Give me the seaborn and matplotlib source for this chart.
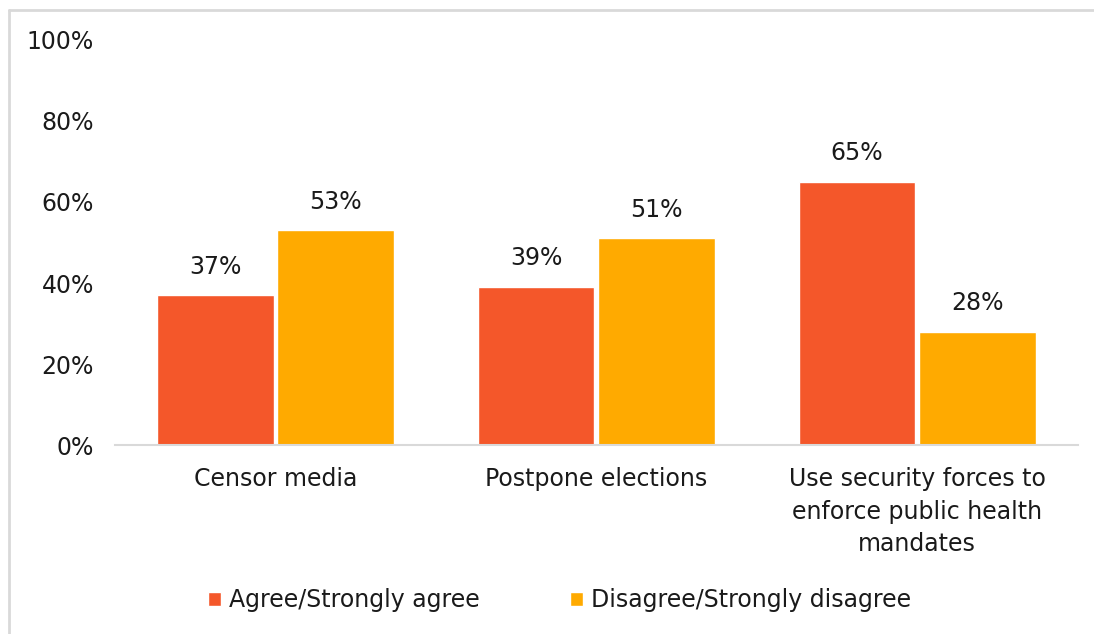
import matplotlib
matplotlib.use("Agg")
import matplotlib.pyplot as plt
from matplotlib.lines import Line2D
import seaborn as sns
import pandas as pd

categories = ["Censor media", "Postpone elections",
              "Use security forces to\nenforce public health\nmandates"]
series_names = ["Agree/Strongly agree", "Disagree/Strongly disagree"]
agree = [37, 39, 65]
disagree = [53, 51, 28]
y_ticks = [0, 20, 40, 60, 80, 100]
colors = ["#F4572A", "#FFAA00"]

df = pd.DataFrame({
    "category": categories * 2,
    "series": [series_names[0]] * 3 + [series_names[1]] * 3,
    "value": agree + disagree,
})

sns.set_theme(style="white")
plt.rcParams["font.family"] = ["DejaVu Sans"]

fig = plt.figure(figsize=(10.94, 6.34), dpi=100)
ax = fig.add_axes([0.105, 0.298, 0.880, 0.639])

sns.barplot(data=df, x="category", y="value", hue="series",
            palette=colors, width=0.75, gap=0.03, saturation=1,
            ax=ax, legend=True)

ax.set_ylim(0, 100)
ax.set_yticks(y_ticks)
ax.set_yticklabels([f"{t}%" for t in y_ticks])
ax.set_xlabel("")
ax.set_ylabel("")
ax.tick_params(axis="both", length=0, labelsize=17, colors="#1a1a1a")
ax.tick_params(axis="y", pad=15)
ax.tick_params(axis="x", pad=16)
for lab in ax.get_xticklabels():
    lab.set_linespacing(1.45)
for s in ["top", "right", "left"]:
    ax.spines[s].set_visible(False)
ax.spines["bottom"].set_color("#D9D9D9")
ax.spines["bottom"].set_linewidth(1.5)

for cont in ax.containers:
    ax.bar_label(cont, labels=[f"{v:.0f}%" for v in cont.datavalues],
                 padding=12, fontsize=17, color="#1a1a1a")

ax.legend(loc="center", bbox_to_anchor=(0.462, -0.383), ncol=2, frameon=False,
          fontsize=17, handlelength=0.55, handleheight=0.55, handletextpad=0.35,
          columnspacing=3.8, borderaxespad=0)
for t in ax.get_legend().get_texts():
    t.set_color("#1a1a1a")

# light frame along the left and top edges
x0, y0 = 8.5 / 1094, 1 - 9.5 / 634
fig.add_artist(Line2D([x0, x0], [0, y0], transform=fig.transFigure,
                      color="#D9D9D9", linewidth=2))
fig.add_artist(Line2D([x0, 1], [y0, y0], transform=fig.transFigure,
                      color="#D9D9D9", linewidth=2))

fig.savefig("out.png", dpi=100)
